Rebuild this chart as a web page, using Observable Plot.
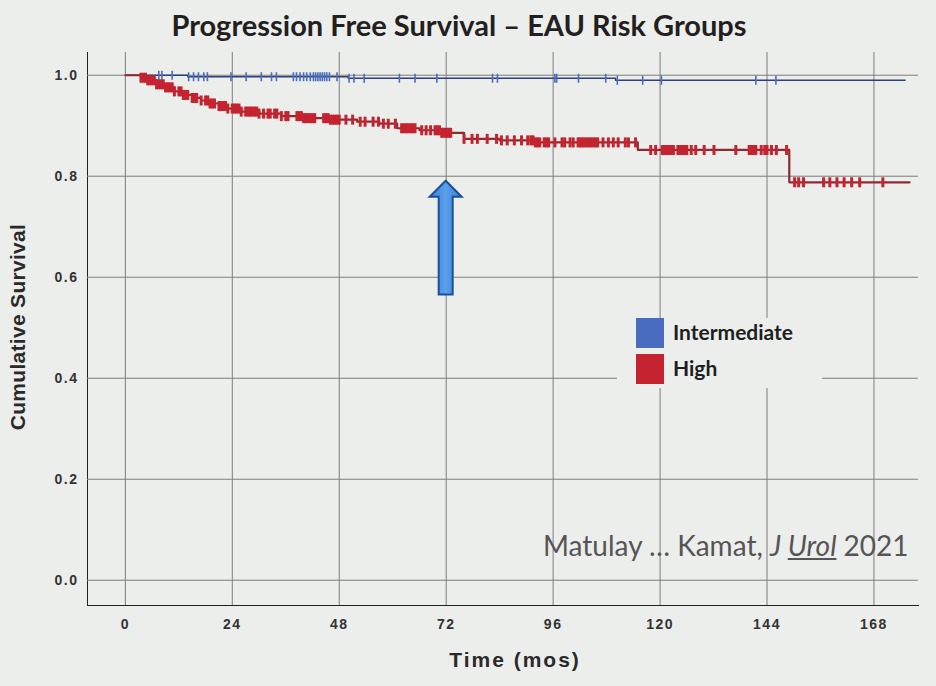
<!DOCTYPE html>
<html>
<head>
<meta charset="utf-8">
<script src="https://cdn.jsdelivr.net/npm/d3@7"></script>
<script src="https://cdn.jsdelivr.net/npm/@observablehq/plot@0.6"></script>
<style>
  html, body { margin: 0; padding: 0; background: #eceeeb; }
  #wrap { position: relative; width: 936px; height: 686px; background: #eceeeb; overflow: hidden; }
  #wrap svg { position: absolute; left: 0; top: 0; }
  .ov { position: absolute; white-space: nowrap; }
  #title { left: 0; width: 918px; top: 7px; text-align: center; font: bold 29px Lato, "Open Sans", sans-serif; color: #231f20; }
  #ylab { left: 18px; top: 327px; transform: translate(-50%, -50%) rotate(-90deg); font: bold 21px "Liberation Sans", Arial, sans-serif; color: #2a2a2a; letter-spacing: 0.3px; }
  #xlab { left: 515px; top: 660px; transform: translate(-50%, -50%); font: bold 21px "Liberation Sans", Arial, sans-serif; color: #2a2a2a; letter-spacing: 2px; }
  #legend { left: 617px; top: 318px; width: 205px; height: 70px; background: #eceeeb; }
  .lg { position: absolute; left: 19px; width: 28px; height: 30px; }
  .lt { position: absolute; left: 56px; font: bold 21px Lato, "Open Sans", sans-serif; color: #1e1e1e; }
  #cite { left: 543px; top: 528px; font: 400 28px Lato, "Open Sans", sans-serif; color: #555; }
  #cite .u { text-decoration: underline; }
</style>
</head>
<body>
<div id="wrap"></div>
<script>
// ---- data ----
const xTicks = [0, 24, 48, 72, 96, 120, 144, 168];
const yTicks = [0.0, 0.2, 0.4, 0.6, 0.8, 1.0];

const seriesNames = ["Intermediate", "High"];
const seriesColors = ["#4a6cc0", "#c4232f"];

// Kaplan-Meier step points (months, cumulative survival)
const intTimes = [0, 14, 50, 110, 175];
const intSurv  = [1.0, 0.997, 0.994, 0.99, 0.99];

const highTimes = [0, 3.5, 5, 7, 9, 11, 13, 15, 17, 19, 21, 23, 26, 30, 35, 40, 46, 52, 57, 61, 66, 71, 76, 84, 92, 115, 149, 176];
const highSurv  = [1.0, 0.995, 0.99, 0.982, 0.976, 0.968, 0.961, 0.955, 0.95, 0.944, 0.939, 0.934, 0.928, 0.924, 0.919, 0.915, 0.912, 0.908, 0.904, 0.895, 0.891, 0.886, 0.874, 0.871, 0.867, 0.852, 0.788, 0.788];

// censoring times (months)
const intCensored = [7.5, 8.2, 10.5, 14.2, 15.3, 16.4, 17.6, 18.4, 23.7, 27.1, 30.5, 32.8, 33.9, 37.7, 38.4, 39.2, 40.0, 40.7, 41.5, 42.2, 42.7, 43.2, 43.7, 44.2, 44.7, 45.2, 45.8, 47.5, 50.2, 51.3, 53.6, 61.5, 65.0, 69.9, 82.4, 83.5, 96.4, 96.8, 101.7, 107.8, 110.4, 116.1, 120.3, 141.5, 146.0];

const highCensored = [3.5, 4, 4.5, 5, 5.5, 6, 6.5, 7, 7.5, 8, 8.5, 9, 9.5, 10, 10.5, 11, 12, 12.5, 13, 13.5, 14, 15, 15.5, 16, 17, 18, 18.5, 19, 19.5, 20, 21, 21.5, 22, 22.5, 23, 24, 24.5, 25, 25.5, 26,
  27, 27.5, 28, 28.5, 29, 29.5, 30, 31, 32, 32.5, 33.5, 34, 35, 36, 36.5, 38.5, 39, 39.5, 40, 40.5, 41, 41.5, 42, 42.5,
  44.5, 45, 45.5, 46, 46.5, 47, 47.5, 48, 49.5, 51, 52.7, 53.8, 55.6, 56.8, 57.9, 59, 60.6, 62, 62.5, 63, 63.5, 64, 64.5, 65,
  66.5, 67.5, 68.5, 69.5, 70, 70.5, 71, 71.5, 72, 72.5, 73, 76, 77.8, 79, 81.2, 83.3, 84.4, 85.7, 87.3, 88.9, 90.3,
  91, 91.5, 92, 92.5, 93, 94, 94.5, 95, 96.4, 98, 98.6, 99.8, 100.5, 101.6, 102, 102.5, 103, 103.5, 104, 104.5, 105, 105.5, 106,
  107.2, 108.4, 109.5, 110.6, 112.2, 112.9, 114.5, 117.9, 119, 120.5, 121, 121.5, 122, 122.5, 123, 124, 124.5, 125, 125.5, 126, 127, 128,
  129.9, 132.1, 137, 140, 140.5, 141, 141.5, 142.7, 143.5, 144, 145, 146.1, 148.4,
  150.2, 151.1, 152.2, 156.7, 158.1, 159.7, 161.3, 163, 164.8, 170];

// annotation arrow (month, from survival, to survival)
const arrowMonth = 72;
const arrowFrom = 0.565;
const arrowTo = 0.79;

// ---- build tables ----
const survAt = (times, surv, t) => surv[Math.max(0, d3.bisectRight(times, t) - 1)];
const intLine = intTimes.map((t, i) => ({t, s: intSurv[i]}));
const highLine = highTimes.map((t, i) => ({t, s: highSurv[i]}));
const intCens = intCensored.map(t => ({t, s: survAt(intTimes, intSurv, t)}));
const highCens = highCensored.map(t => ({t, s: survAt(highTimes, highSurv, t)}));

const tickSymbol = {
  draw(context, size) {
    const r = Math.sqrt(size / Math.PI);
    context.moveTo(0, -r);
    context.lineTo(0, r);
  }
};

const chart = Plot.plot({
  width: 936,
  height: 686,
  marginLeft: 87,
  marginRight: 18,
  marginTop: 52,
  marginBottom: 81,
  style: {background: "transparent", color: "#222", fontFamily: "'Liberation Sans', Arial, sans-serif", fontSize: "14px", fontWeight: "bold"},
  x: {domain: [-8.5, 178], ticks: xTicks, tickSize: 0, tickPadding: 14, label: null, line: true},
  y: {domain: [-0.05, 1.045], ticks: yTicks, tickFormat: d3.format(".1f"), tickSize: 0, tickPadding: 9, label: null, line: true},
  marks: [
    Plot.ruleX(xTicks, {stroke: "#7d7d7d", strokeWidth: 1}),
    Plot.ruleY(yTicks, {stroke: "#7d7d7d", strokeWidth: 1}),
    Plot.line(intLine, {x: "t", y: "s", curve: "step-after", stroke: "#2d3f7c", strokeWidth: 1.4}),
    Plot.dot(intCens, {x: "t", y: "s", symbol: tickSymbol, r: 4.5, fill: "none", stroke: seriesColors[0], strokeWidth: 1.6}),
    Plot.line(highLine, {x: "t", y: "s", curve: "step-after", stroke: "#8e2a35", strokeWidth: 2.2}),
    Plot.dot(highCens, {x: "t", y: "s", symbol: tickSymbol, r: 5, fill: "none", stroke: seriesColors[1], strokeWidth: 3})
  ]
});

const wrap = document.getElementById("wrap");
wrap.appendChild(chart);

// axis line thickness / tick label letter-spacing
d3.select(chart).selectAll("[aria-label='x-axis line'] path, [aria-label='y-axis line'] path").attr("stroke-width", 1.8);
d3.select(chart).selectAll("[aria-label='x-axis tick label'] text, [aria-label='y-axis tick label'] text").style("letter-spacing", "1.5px").attr("fill", "#333");

// block arrow
const sx = chart.scale("x"), sy = chart.scale("y");
const ax = sx.apply(arrowMonth), y0 = sy.apply(arrowFrom), y1 = sy.apply(arrowTo);
const sw = 7, hw = 16, hl = 16;
const pts = [[ax - sw, y0], [ax - sw, y1 + hl], [ax - hw, y1 + hl], [ax, y1], [ax + hw, y1 + hl], [ax + sw, y1 + hl], [ax + sw, y0]];
const defs = d3.select(chart).append("defs");
const grad = defs.append("linearGradient").attr("id", "ag").attr("x1", 0).attr("x2", 1);
grad.append("stop").attr("offset", "0%").attr("stop-color", "#3c7fd8");
grad.append("stop").attr("offset", "50%").attr("stop-color", "#5aa0ea");
grad.append("stop").attr("offset", "100%").attr("stop-color", "#3b7ccf");
d3.select(chart).append("path")
  .attr("d", "M" + pts.map(p => p.join(",")).join("L") + "Z")
  .attr("fill", "url(#ag)").attr("stroke", "#1d4f9a").attr("stroke-width", 2).attr("stroke-linejoin", "miter");

// overlays
function ov(id, html) { const d = document.createElement("div"); d.className = "ov"; d.id = id; d.innerHTML = html; wrap.appendChild(d); return d; }
ov("title", "Progression Free Survival – EAU Risk Groups");
ov("ylab", "Cumulative Survival");
ov("xlab", "Time (mos)");
const lg = ov("legend", "");
seriesNames.forEach((n, i) => {
  const sq = document.createElement("div"); sq.className = "lg"; sq.style.top = (i * 36) + "px"; sq.style.background = seriesColors[i];
  lg.appendChild(sq);
  const t = document.createElement("div"); t.className = "lt"; t.style.top = (i * 36 + 1) + "px"; t.textContent = n;
  lg.appendChild(t);
});
ov("cite", "Matulay … Kamat, <i>J <span class='u'>Urol</span></i> 2021");
</script>
</body>
</html>
